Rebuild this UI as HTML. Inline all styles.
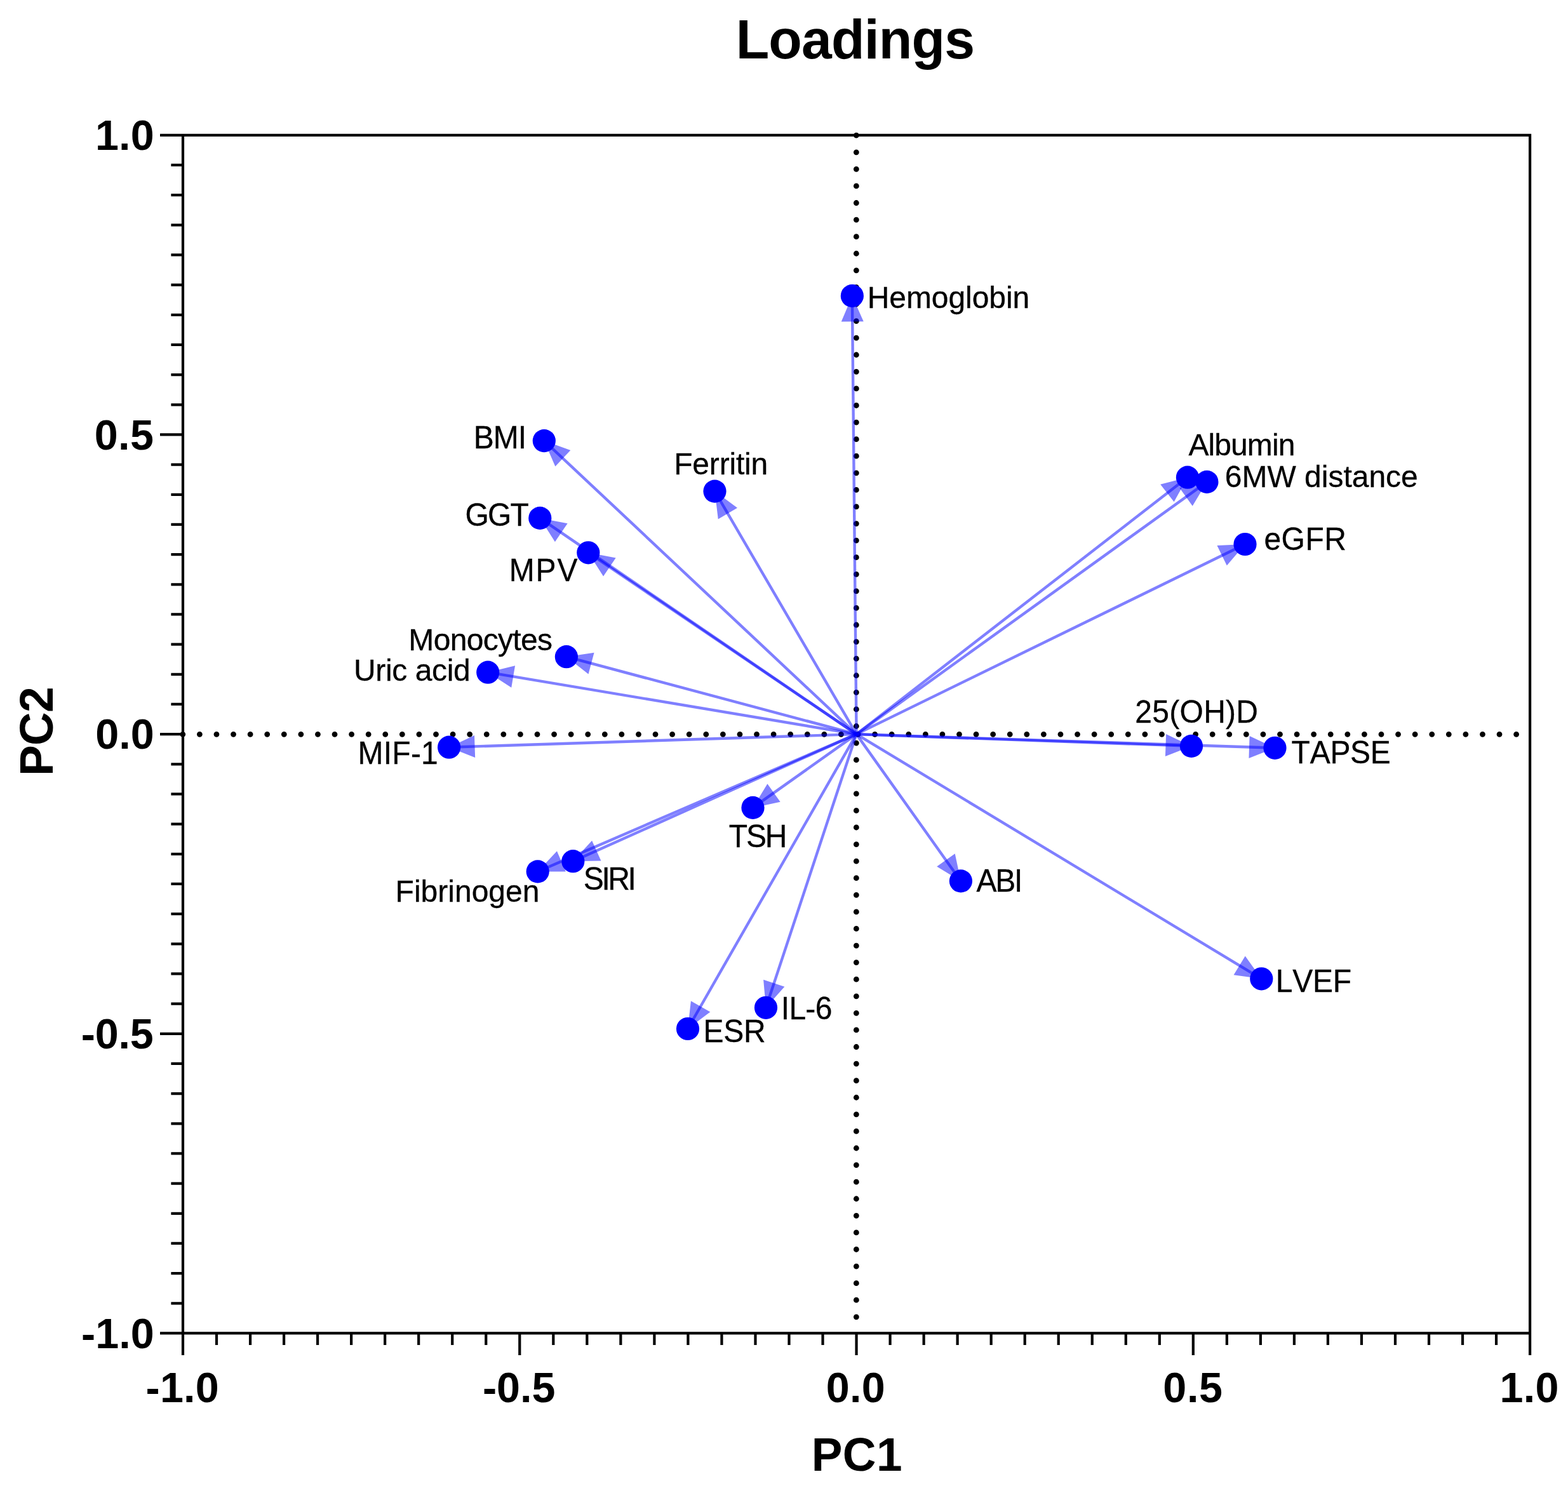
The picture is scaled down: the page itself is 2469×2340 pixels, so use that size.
<!DOCTYPE html>
<html lang="en"><head><meta charset="utf-8"><title>Loadings</title>
<style>
html,body{margin:0;padding:0;background:#fff;}
body{width:2469px;height:2340px;overflow:hidden;}
svg{display:block;}
text{font-family:"Liberation Sans",Arial,Helvetica,sans-serif;fill:#000;font-kerning:none;}
</style></head><body>
<svg width="2469" height="2340" viewBox="0 0 2469 2340" role="img" aria-label="Loadings plot: PC1 versus PC2">
<rect x="0" y="0" width="2469" height="2340" fill="#fff"/>
<g stroke="#000" stroke-width="8.8" stroke-linecap="round" fill="none" stroke-dasharray="0 26.58">
<line x1="287.80" y1="1156.33" x2="2403.1" y2="1156.33"/>
<line x1="1348.35" y1="213.20000000000002" x2="1348.35" y2="2093.45"/>
</g>
<g stroke="rgba(0,0,255,0.5)" stroke-width="4.4" fill="none">
<line x1="1348.55" y1="1156.12" x2="1341.85" y2="465.90"/>
<line x1="1348.55" y1="1156.12" x2="856.80" y2="694.10"/>
<line x1="1348.55" y1="1156.12" x2="1125.50" y2="773.60"/>
<line x1="1348.55" y1="1156.12" x2="850.30" y2="815.90"/>
<line x1="1348.55" y1="1156.12" x2="926.30" y2="870.30"/>
<line x1="1348.55" y1="1156.12" x2="891.90" y2="1034.20"/>
<line x1="1348.55" y1="1156.12" x2="768.20" y2="1058.70"/>
<line x1="1348.55" y1="1156.12" x2="707.10" y2="1176.70"/>
<line x1="1348.55" y1="1156.12" x2="846.70" y2="1372.40"/>
<line x1="1348.55" y1="1156.12" x2="902.30" y2="1356.20"/>
<line x1="1348.55" y1="1156.12" x2="1185.50" y2="1271.90"/>
<line x1="1348.55" y1="1156.12" x2="1083.00" y2="1620.00"/>
<line x1="1348.55" y1="1156.12" x2="1206.00" y2="1586.80"/>
<line x1="1348.55" y1="1156.12" x2="1512.90" y2="1387.40"/>
<line x1="1348.55" y1="1156.12" x2="1986.30" y2="1541.30"/>
<line x1="1348.55" y1="1156.12" x2="1876.00" y2="1174.90"/>
<line x1="1348.55" y1="1156.12" x2="2007.50" y2="1177.80"/>
<line x1="1348.55" y1="1156.12" x2="1869.90" y2="751.70"/>
<line x1="1348.55" y1="1156.12" x2="1900.40" y2="758.90"/>
<line x1="1348.55" y1="1156.12" x2="1960.50" y2="857.00"/>
</g>
<g fill="rgba(0,0,255,0.5)" stroke="none">
<polygon points="1341.85,465.90 1359.74,506.23 1324.74,506.57"/>
<polygon points="856.80,694.10 898.30,709.08 874.33,734.59"/>
<polygon points="1125.50,773.60 1161.02,799.77 1130.78,817.40"/>
<polygon points="850.30,815.90 893.61,824.29 873.88,853.19"/>
<polygon points="926.30,870.30 969.65,878.51 950.03,907.49"/>
<polygon points="891.90,1034.20 935.54,1027.74 926.51,1061.56"/>
<polygon points="768.20,1058.70 811.04,1048.15 805.24,1082.66"/>
<polygon points="707.10,1176.70 747.02,1157.91 748.14,1192.89"/>
<polygon points="846.70,1372.40 876.97,1340.30 890.82,1372.44"/>
<polygon points="902.30,1356.20 932.10,1323.66 946.42,1355.60"/>
<polygon points="1185.50,1271.90 1208.39,1234.18 1228.65,1262.72"/>
<polygon points="1083.00,1620.00 1087.93,1576.16 1118.31,1593.55"/>
<polygon points="1206.00,1586.80 1202.11,1542.85 1235.34,1553.85"/>
<polygon points="1512.90,1387.40 1475.17,1364.52 1503.70,1344.25"/>
<polygon points="1986.30,1541.30 1942.58,1535.34 1960.68,1505.38"/>
<polygon points="1876.00,1174.90 1834.90,1190.95 1836.15,1155.97"/>
<polygon points="2007.50,1177.80 1966.45,1193.96 1967.60,1158.98"/>
<polygon points="1869.90,751.70 1848.63,790.35 1827.17,762.70"/>
<polygon points="1900.40,758.90 1877.75,796.76 1857.31,768.36"/>
<polygon points="1960.50,857.00 1931.80,890.51 1916.43,859.06"/>
</g>
<g stroke="#000" stroke-width="4.2" fill="none" stroke-linecap="butt">
<path d="M288.0 212.8H2409.1V2099.45H288.0ZM288.00 2099.45V2133.95M288.0 212.80H252.00M341.03 2099.45V2118.05M288.0 259.97H269.40M394.06 2099.45V2118.05M288.0 307.13H269.40M447.08 2099.45V2118.05M288.0 354.30H269.40M500.11 2099.45V2118.05M288.0 401.47H269.40M553.14 2099.45V2118.05M288.0 448.63H269.40M606.16 2099.45V2118.05M288.0 495.80H269.40M659.19 2099.45V2118.05M288.0 542.96H269.40M712.22 2099.45V2118.05M288.0 590.13H269.40M765.25 2099.45V2118.05M288.0 637.30H269.40M818.27 2099.45V2133.95M288.0 684.46H252.00M871.30 2099.45V2118.05M288.0 731.63H269.40M924.33 2099.45V2118.05M288.0 778.80H269.40M977.36 2099.45V2118.05M288.0 825.96H269.40M1030.38 2099.45V2118.05M288.0 873.13H269.40M1083.41 2099.45V2118.05M288.0 920.29H269.40M1136.44 2099.45V2118.05M288.0 967.46H269.40M1189.47 2099.45V2118.05M288.0 1014.63H269.40M1242.49 2099.45V2118.05M288.0 1061.79H269.40M1295.52 2099.45V2118.05M288.0 1108.96H269.40M1348.55 2099.45V2133.95M288.0 1156.12H252.00M1401.58 2099.45V2118.05M288.0 1203.29H269.40M1454.61 2099.45V2118.05M288.0 1250.46H269.40M1507.63 2099.45V2118.05M288.0 1297.62H269.40M1560.66 2099.45V2118.05M288.0 1344.79H269.40M1613.69 2099.45V2118.05M288.0 1391.96H269.40M1666.71 2099.45V2118.05M288.0 1439.12H269.40M1719.74 2099.45V2118.05M288.0 1486.29H269.40M1772.77 2099.45V2118.05M288.0 1533.45H269.40M1825.80 2099.45V2118.05M288.0 1580.62H269.40M1878.82 2099.45V2133.95M288.0 1627.79H252.00M1931.85 2099.45V2118.05M288.0 1674.95H269.40M1984.88 2099.45V2118.05M288.0 1722.12H269.40M2037.91 2099.45V2118.05M288.0 1769.29H269.40M2090.93 2099.45V2118.05M288.0 1816.45H269.40M2143.96 2099.45V2118.05M288.0 1863.62H269.40M2196.99 2099.45V2118.05M288.0 1910.78H269.40M2250.02 2099.45V2118.05M288.0 1957.95H269.40M2303.05 2099.45V2118.05M288.0 2005.12H269.40M2356.07 2099.45V2118.05M288.0 2052.28H269.40M2409.10 2099.45V2133.95M288.0 2099.45H252.00"/>
</g>
<g fill="#0000ff">
<circle cx="1341.85" cy="465.90" r="18.1"/>
<circle cx="856.80" cy="694.10" r="18.1"/>
<circle cx="1125.50" cy="773.60" r="18.1"/>
<circle cx="850.30" cy="815.90" r="18.1"/>
<circle cx="926.30" cy="870.30" r="18.1"/>
<circle cx="891.90" cy="1034.20" r="18.1"/>
<circle cx="768.20" cy="1058.70" r="18.1"/>
<circle cx="707.10" cy="1176.70" r="18.1"/>
<circle cx="846.70" cy="1372.40" r="18.1"/>
<circle cx="902.30" cy="1356.20" r="18.1"/>
<circle cx="1185.50" cy="1271.90" r="18.1"/>
<circle cx="1083.00" cy="1620.00" r="18.1"/>
<circle cx="1206.00" cy="1586.80" r="18.1"/>
<circle cx="1512.90" cy="1387.40" r="18.1"/>
<circle cx="1986.30" cy="1541.30" r="18.1"/>
<circle cx="1876.00" cy="1174.90" r="18.1"/>
<circle cx="2007.50" cy="1177.80" r="18.1"/>
<circle cx="1869.90" cy="751.70" r="18.1"/>
<circle cx="1900.40" cy="758.90" r="18.1"/>
<circle cx="1960.50" cy="857.00" r="18.1"/>
</g>
<g>
<text transform="translate(1365.75,484.60) scale(1,1.02)" font-size="48" stroke="#000" stroke-width="0.3" letter-spacing="-0.07">Hemoglobin</text>
<text transform="translate(745.85,706.00) scale(1,1.04)" font-size="48" stroke="#000" stroke-width="0.3" letter-spacing="-0.98">BMI</text>
<text transform="translate(1061.25,746.80) scale(1,1.02)" font-size="48" stroke="#000" stroke-width="0.3" letter-spacing="-0.19">Ferritin</text>
<text transform="translate(732.45,827.80) scale(1,1.04)" font-size="48" stroke="#000" stroke-width="0.3" letter-spacing="-1.78">GGT</text>
<text transform="translate(801.75,914.70) scale(1,1.04)" font-size="48" stroke="#000" stroke-width="0.3" letter-spacing="1.88">MPV</text>
<text transform="translate(643.35,1024.00) scale(1,1.02)" font-size="48" stroke="#000" stroke-width="0.3" letter-spacing="-0.68">Monocytes</text>
<text transform="translate(557.10,1071.60) scale(1,1.02)" font-size="48" stroke="#000" stroke-width="0.3" letter-spacing="-0.39">Uric acid</text>
<text transform="translate(563.55,1203.40) scale(1,1.04)" font-size="48" stroke="#000" stroke-width="0.3" letter-spacing="0.24">MIF-1</text>
<text transform="translate(622.55,1420.10) scale(1,1.02)" font-size="48" stroke="#000" stroke-width="0.3" letter-spacing="0.02">Fibrinogen</text>
<text transform="translate(918.80,1401.30) scale(1,1.04)" font-size="48" stroke="#000" stroke-width="0.3" letter-spacing="-3.40">SIRI</text>
<text transform="translate(1147.80,1333.50) scale(1,1.04)" font-size="48" stroke="#000" stroke-width="0.3" letter-spacing="-2.17">TSH</text>
<text transform="translate(1107.45,1641.40) scale(1,1.04)" font-size="48" stroke="#000" stroke-width="0.3" letter-spacing="-0.18">ESR</text>
<text transform="translate(1229.75,1605.30) scale(1,1.04)" font-size="48" stroke="#000" stroke-width="0.3" letter-spacing="-0.70">IL-6</text>
<text transform="translate(1537.40,1404.30) scale(1,1.04)" font-size="48" stroke="#000" stroke-width="0.3" letter-spacing="-2.20">ABI</text>
<text transform="translate(2008.65,1561.90) scale(1,1.04)" font-size="48" stroke="#000" stroke-width="0.3" letter-spacing="-0.17">LVEF</text>
<text transform="translate(1787.35,1137.80) scale(1,1.04)" font-size="48" stroke="#000" stroke-width="0.3" letter-spacing="0.28">25(OH)D</text>
<text transform="translate(2033.60,1202.40) scale(1,1.04)" font-size="48" stroke="#000" stroke-width="0.3" letter-spacing="-0.27">TAPSE</text>
<text transform="translate(1871.40,717.20) scale(1,1.02)" font-size="48" stroke="#000" stroke-width="0.3" letter-spacing="-0.90">Albumin</text>
<text transform="translate(1928.75,767.30) scale(1,1.02)" font-size="48" stroke="#000" stroke-width="0.3">6MW distance</text>
<text transform="translate(1990.40,866.00) scale(1,1.04)" font-size="48" stroke="#000" stroke-width="0.3" letter-spacing="0.53">eGFR</text>
<text transform="translate(150.00,235.90) scale(1,1.015)" font-size="66.5" font-weight="bold" letter-spacing="0.12">1.0</text>
<text transform="translate(148.75,707.56) scale(1,1.015)" font-size="66.5" font-weight="bold" letter-spacing="0.38">0.5</text>
<text transform="translate(150.25,1179.22) scale(1,1.015)" font-size="66.5" font-weight="bold">0.0</text>
<text transform="translate(127.70,1650.89) scale(1,1.015)" font-size="66.5" font-weight="bold" letter-spacing="-0.15">-0.5</text>
<text transform="translate(128.10,2122.55) scale(1,1.015)" font-size="66.5" font-weight="bold" letter-spacing="0.05">-1.0</text>
<text transform="translate(229.60,2207.80) scale(1,1.015)" font-size="66.5" font-weight="bold" letter-spacing="0.18">-1.0</text>
<text transform="translate(759.90,2207.80) scale(1,1.015)" font-size="66.5" font-weight="bold" letter-spacing="-0.02">-0.5</text>
<text transform="translate(1300.85,2207.80) scale(1,1.015)" font-size="66.5" font-weight="bold" letter-spacing="0.20">0.0</text>
<text transform="translate(1831.35,2207.80) scale(1,1.015)" font-size="66.5" font-weight="bold" letter-spacing="0.58">0.5</text>
<text transform="translate(2361.50,2207.80) scale(1,1.015)" font-size="66.5" font-weight="bold" letter-spacing="0.33">1.0</text>
<text transform="translate(1158.65,91.70) scale(1,1.02)" font-size="86" font-weight="bold" letter-spacing="-0.83">Loadings</text>
<text transform="translate(1277.70,2315.80) scale(1,1.02)" font-size="73" font-weight="bold" letter-spacing="0.45">PC1</text>
<text transform="translate(83.00,1222.00) rotate(-90) scale(1,1.02)" font-size="73" font-weight="bold" letter-spacing="-0.65">PC2</text>
</g>
</svg>
</body></html>
